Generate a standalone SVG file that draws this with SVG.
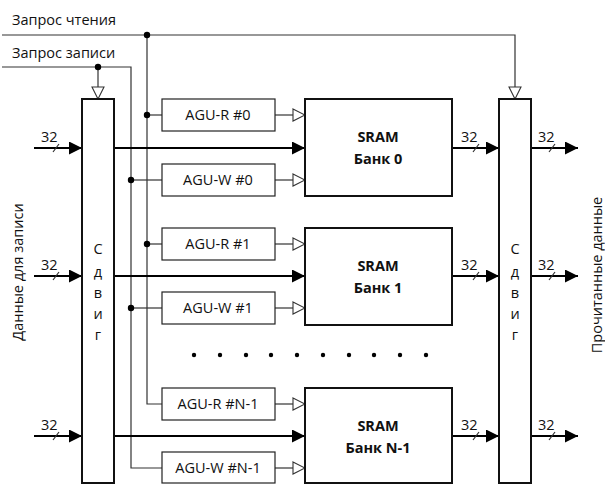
<svg xmlns="http://www.w3.org/2000/svg" width="605" height="484" viewBox="0 0 605 484">
<style>
text{font-family:"Open Sans","Noto Sans","Liberation Sans",sans-serif;font-size:14.5px;fill:#111}
.b{font-weight:bold}
.thin{stroke:#333;stroke-width:1.2;fill:none}
.data{stroke:#000;stroke-width:2;fill:none}
.box{fill:#fff;stroke:#222;stroke-width:1.2}
.big{fill:#fff;stroke:#111;stroke-width:2}
.dot{fill:#000}
</style>
<defs>
<marker id="fa" viewBox="0 0 13 13" refX="13" refY="6.5" markerWidth="13" markerHeight="13" markerUnits="userSpaceOnUse" orient="auto"><path d="M0,0 L13,6.5 L0,13 z" fill="#000"/></marker>
<marker id="ha" viewBox="0 0 14 14" refX="13" refY="7" markerWidth="14" markerHeight="14" markerUnits="userSpaceOnUse" orient="auto"><path d="M1,1 L13,7 L1,13 z" fill="#fff" stroke="#333" stroke-width="1.1"/></marker>
</defs>
<g id="labels">
<text x="12" y="25">Запрос чтения</text>
<text x="12" y="58">Запрос записи</text>
<text transform="translate(23,272) rotate(-90)" text-anchor="middle">Данные для записи</text>
<text transform="translate(602,275) rotate(-90)" text-anchor="middle">Прочитанные данные</text>
</g>
<g id="connectors">
<path class="thin" d="M2,35 H515 V99" marker-end="url(#ha)"/>
<path class="thin" d="M2,67 H131 V468 H162"/>
<path class="thin" d="M98,67 V99" marker-end="url(#ha)"/>
<path class="thin" d="M147,35 V404 H162"/>
<path class="thin" d="M147,115 H162"/>
<path class="thin" d="M131,180 H162"/>
<path class="thin" d="M147,244 H162"/>
<path class="thin" d="M131,308 H162"/>
<path class="thin" d="M275,115 H305" marker-end="url(#ha)"/>
<path class="thin" d="M275,180 H305" marker-end="url(#ha)"/>
<path class="thin" d="M275,244 H305" marker-end="url(#ha)"/>
<path class="thin" d="M275,308 H305" marker-end="url(#ha)"/>
<path class="thin" d="M275,404 H305" marker-end="url(#ha)"/>
<path class="thin" d="M275,468 H305" marker-end="url(#ha)"/>
<path class="data" d="M114,148 H305" marker-end="url(#fa)"/>
<path class="data" d="M114,276 H305" marker-end="url(#fa)"/>
<path class="data" d="M114,436 H305" marker-end="url(#fa)"/>
<g id="bus-in">
<path class="data" d="M34,148 H82" marker-end="url(#fa)"/>
<path class="data" d="M34,276 H82" marker-end="url(#fa)"/>
<path class="data" d="M34,436 H82" marker-end="url(#fa)"/>
<path class="thin" d="M53,152 L59,144 M53,280 L59,272 M53,440 L59,432"/>
<text x="41" y="142">32</text><text x="41" y="270">32</text><text x="41" y="430">32</text>
</g>
<g id="bus-mid">
<path class="data" d="M452,148 H499" marker-end="url(#fa)"/>
<path class="data" d="M452,276 H499" marker-end="url(#fa)"/>
<path class="data" d="M452,436 H499" marker-end="url(#fa)"/>
<path class="thin" d="M473,152 L479,144 M473,280 L479,272 M473,440 L479,432"/>
<text x="461" y="142">32</text><text x="461" y="270">32</text><text x="461" y="430">32</text>
</g>
<g id="bus-out">
<path class="data" d="M531,148 H578" marker-end="url(#fa)"/>
<path class="data" d="M531,276 H578" marker-end="url(#fa)"/>
<path class="data" d="M531,436 H578" marker-end="url(#fa)"/>
<path class="thin" d="M549,152 L555,144 M549,280 L555,272 M549,440 L555,432"/>
<text x="538" y="142">32</text><text x="538" y="270">32</text><text x="538" y="430">32</text>
</g>
<circle class="dot" cx="147" cy="35" r="3.2"/>
<circle class="dot" cx="98" cy="67" r="3.2"/>
<circle class="dot" cx="147" cy="115" r="3.2"/>
<circle class="dot" cx="131" cy="180" r="3.2"/>
<circle class="dot" cx="147" cy="244" r="3.2"/>
<circle class="dot" cx="131" cy="308" r="3.2"/>
</g>
<g id="shift-in">
<rect class="big" x="82" y="99" width="32" height="384"/>
<text x="98" y="254" text-anchor="middle">С</text>
<text x="98" y="277" text-anchor="middle">д</text>
<text x="98" y="298" text-anchor="middle">в</text>
<text x="98" y="319" text-anchor="middle">и</text>
<text x="98" y="340" text-anchor="middle">г</text>
</g>
<g id="shift-out">
<rect class="big" x="499" y="99" width="32" height="384"/>
<text x="515" y="254" text-anchor="middle">С</text>
<text x="515" y="277" text-anchor="middle">д</text>
<text x="515" y="298" text-anchor="middle">в</text>
<text x="515" y="319" text-anchor="middle">и</text>
<text x="515" y="340" text-anchor="middle">г</text>
</g>
<g id="agu-r0"><rect class="box" x="162" y="99" width="113" height="32"/><text x="218" y="120" text-anchor="middle">AGU-R #0</text></g>
<g id="agu-w0"><rect class="box" x="162" y="164" width="113" height="32"/><text x="218" y="185" text-anchor="middle">AGU-W #0</text></g>
<g id="agu-r1"><rect class="box" x="162" y="228" width="113" height="32"/><text x="218" y="249" text-anchor="middle">AGU-R #1</text></g>
<g id="agu-w1"><rect class="box" x="162" y="292" width="113" height="32"/><text x="218" y="313" text-anchor="middle">AGU-W #1</text></g>
<g id="agu-rn"><rect class="box" x="162" y="388" width="113" height="32"/><text x="218" y="409" text-anchor="middle">AGU-R #N-1</text></g>
<g id="agu-wn"><rect class="box" x="162" y="452" width="113" height="31"/><text x="218" y="473" text-anchor="middle">AGU-W #N-1</text></g>
<g id="bank0"><rect class="big" x="305" y="99" width="147" height="97"/><text class="b" x="378" y="142" text-anchor="middle">SRAM</text><text class="b" x="378" y="164" text-anchor="middle">Банк 0</text></g>
<g id="bank1"><rect class="big" x="305" y="228" width="147" height="97"/><text class="b" x="378" y="271" text-anchor="middle">SRAM</text><text class="b" x="378" y="293" text-anchor="middle">Банк 1</text></g>
<g id="bankn"><rect class="big" x="305" y="388" width="147" height="95"/><text class="b" x="378" y="431" text-anchor="middle">SRAM</text><text class="b" x="378" y="453" text-anchor="middle">Банк N-1</text></g>
<g id="ellipsis">
<circle class="dot" cx="194" cy="355" r="2.2"/><circle class="dot" cx="220" cy="355" r="2.2"/><circle class="dot" cx="246" cy="355" r="2.2"/><circle class="dot" cx="271" cy="355" r="2.2"/><circle class="dot" cx="297" cy="355" r="2.2"/><circle class="dot" cx="323" cy="355" r="2.2"/><circle class="dot" cx="349" cy="355" r="2.2"/><circle class="dot" cx="374" cy="355" r="2.2"/><circle class="dot" cx="400" cy="355" r="2.2"/><circle class="dot" cx="426" cy="355" r="2.2"/>
</g>
</svg>
